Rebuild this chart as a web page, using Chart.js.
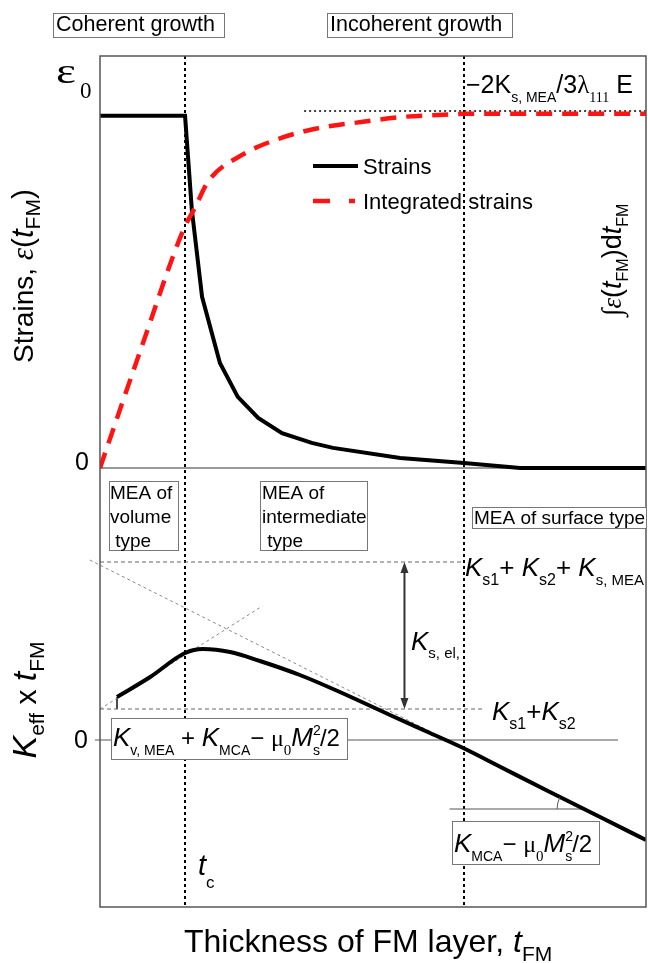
<!DOCTYPE html>
<html>
<head>
<meta charset="utf-8">
<script src="https://cdn.jsdelivr.net/npm/chart.js@4/dist/chart.umd.min.js"></script>
<style>
  html, body { margin: 0; padding: 0; background: #fff; }
</style>
</head>
<body>
<canvas id="chart" width="648" height="963"></canvas>
<script>
// thickness in units of t_c, strains in units of eps0, Keff*t in arbitrary units
const tc = 1.0;
const tIncoherent = 4.28;

const strainT = [0, 1.0, 1.08, 1.20, 1.41, 1.62, 1.86, 2.14, 2.49, 2.74, 3.53, 4.28, 4.94, 6.42];
const strainV = [1.0, 1.0, 0.733, 0.486, 0.298, 0.202, 0.142, 0.099, 0.071, 0.057, 0.028, 0.014, 0.0, 0.0];

const intT = [0, 0.49, 0.98, 1.12, 1.27, 1.67, 2.14, 2.59, 3.09, 3.56, 4.04, 4.28, 6.42];
const intV = [0, 0.344, 0.676, 0.741, 0.813, 0.889, 0.938, 0.966, 0.983, 0.997, 1.003, 1.006, 1.006];
const intLimitT = [2.4, 6.42];
const intLimit = 1.014;

const keffT = [0.20, 0.59, 1.00, 1.21, 1.53, 1.88, 2.35, 2.82, 3.41, 3.88, 4.27, 4.71, 5.29, 5.88, 6.42];
const keffV = [0.43, 0.63, 0.87, 0.91, 0.88, 0.79, 0.65, 0.48, 0.25, 0.07, -0.08, -0.27, -0.52, -0.77, -1.00];

// guide lines in the lower panel
const ksTotal = 1.78;          // Ks1 + Ks2 + Ks,MEA
const ksTotalT = [0, 4.28];
const ksSum = 0.31;            // Ks1 + Ks2
const ksSumT = [0, 4.5];
const asymT = [-0.12, 4.55];
const asymV = [1.80, -0.20];
const startT = [0, 1.91];
const startV = [0.31, 1.34];
const tickT = [0.20, 0.20];
const tickV = [0.43, 0.31];
const zeroT = [-0.06, 6.09];
const slopeRefT = [4.11, 5.68];
const slopeRef = -0.69;
const arrowT = 3.58;

const SANS = '"Liberation Sans", Arial, sans-serif';
const SERIF = '"Liberation Serif", "Times New Roman", serif';

const pts = (xs, ys) => xs.map((x, i) => ({ x: x, y: Array.isArray(ys) ? ys[i] : ys }));

function guide(data, axis, color, width, dash, extra) {
  return Object.assign({
    data: data, yAxisID: axis, borderColor: color, borderWidth: width,
    borderDash: dash, pointRadius: 0, tension: 0, fill: false
  }, extra || {});
}

// text made of runs: [text, size, flags, dy]; flags: i italic, s serif, k keep position
function runs(ctx, x, y, parts, align) {
  const font = (p) => (p[2] && p[2].includes('i') ? 'italic ' : '') + p[1] + 'px ' +
    (p[2] && p[2].includes('s') ? SERIF : SANS);
  let total = 0;
  parts.forEach(p => { ctx.font = font(p); if (!(p[2] && p[2].includes('k'))) total += ctx.measureText(p[0]).width; });
  let cx = align === 'center' ? x - total / 2 : x;
  ctx.textBaseline = 'alphabetic';
  ctx.textAlign = 'left';
  parts.forEach(p => {
    ctx.font = font(p);
    ctx.fillText(p[0], cx, y + (p[3] || 0));
    if (!(p[2] && p[2].includes('k'))) cx += ctx.measureText(p[0]).width;
  });
}

function box(ctx, x1, y1, x2, y2) {
  ctx.save();
  ctx.fillStyle = '#fff';
  ctx.strokeStyle = '#777';
  ctx.lineWidth = 1;
  ctx.setLineDash([]);
  ctx.fillRect(x1, y1, x2 - x1, y2 - y1);
  ctx.strokeRect(x1 + 0.5, y1 + 0.5, x2 - x1, y2 - y1);
  ctx.restore();
}

const decor = {
  id: 'decor',
  beforeDatasetsDraw(chart) {
    const { ctx, chartArea: a, scales: { x } } = chart;
    ctx.save();
    ctx.strokeStyle = '#000';
    ctx.lineWidth = 2;
    ctx.setLineDash([3, 3]);
    [tc, tIncoherent].forEach(t => {
      const px = Math.round(x.getPixelForValue(t));
      ctx.beginPath(); ctx.moveTo(px, a.top); ctx.lineTo(px, a.bottom); ctx.stroke();
    });
    ctx.restore();
  },
  afterDatasetsDraw(chart) {
    const { ctx, chartArea: a, scales: { x, yTop, yBot } } = chart;
    ctx.save();
    ctx.fillStyle = '#000';

    // frame
    ctx.strokeStyle = '#555';
    ctx.lineWidth = 1.5;
    ctx.strokeRect(a.left, a.top, a.width, a.height);

    // arrow between Ks levels
    const ax = x.getPixelForValue(arrowT);
    const ay1 = yBot.getPixelForValue(ksTotal), ay2 = yBot.getPixelForValue(ksSum);
    ctx.strokeStyle = '#333';
    ctx.fillStyle = '#333';
    ctx.lineWidth = 2;
    ctx.beginPath(); ctx.moveTo(ax, ay1 + 6); ctx.lineTo(ax, ay2 - 6); ctx.stroke();
    ctx.beginPath(); ctx.moveTo(ax, ay1); ctx.lineTo(ax - 4, ay1 + 11); ctx.lineTo(ax + 4, ay1 + 11); ctx.fill();
    ctx.beginPath(); ctx.moveTo(ax, ay2); ctx.lineTo(ax - 4, ay2 - 11); ctx.lineTo(ax + 4, ay2 - 11); ctx.fill();

    // angle arc
    ctx.strokeStyle = '#555';
    ctx.lineWidth = 1;
    ctx.beginPath();
    ctx.arc(x.getPixelForValue(5.68), yBot.getPixelForValue(slopeRef), 26, Math.PI, Math.PI + Math.atan(0.5));
    ctx.stroke();

    // legend
    ctx.lineWidth = 4;
    ctx.strokeStyle = '#000';
    ctx.beginPath(); ctx.moveTo(313, 166); ctx.lineTo(358, 166); ctx.stroke();
    ctx.strokeStyle = '#ff1414';
    ctx.lineWidth = 4.5;
    ctx.beginPath(); ctx.moveTo(313, 201); ctx.lineTo(330, 201); ctx.moveTo(349, 201); ctx.lineTo(355, 201); ctx.stroke();
    ctx.fillStyle = '#000';
    runs(ctx, 363, 174, [['Strains', 22]]);
    runs(ctx, 363, 209, [['Integrated strains', 22]]);

    // top boxes
    box(ctx, 53, 13, 224, 37);
    runs(ctx, 56, 31, [['Coherent growth', 21.5]]);
    box(ctx, 327, 13, 512, 37);
    runs(ctx, 330, 31, [['Incoherent growth', 21.5]]);

    // eps0
    ctx.save();
    ctx.translate(56, 83);
    ctx.scale(1.35, 1);
    ctx.font = '35px ' + SERIF;
    ctx.fillText('ε', 0, 0);
    ctx.restore();
    runs(ctx, 80, 98, [['0', 23, 's']]);

    // zero labels
    runs(ctx, 75, 470, [['0', 25]]);
    runs(ctx, 74, 748, [['0', 25]]);

    runs(ctx, 466, 93, [['−2K', 25], ['s, MEA', 14, '', 9], ['/3', 25], ['λ', 25, 's'], ['111', 14, 's', 9], [' E', 25]]);

    // y titles
    ctx.save();
    ctx.translate(33, 276);
    ctx.rotate(-Math.PI / 2);
    runs(ctx, 0, 0, [['Strains, ', 28], ['ε', 31, 'is'], ['(', 30], ['t', 31, 'i'], ['FM', 21, '', 7], [')', 30]], 'center');
    ctx.restore();

    ctx.save();
    ctx.translate(36, 700);
    ctx.rotate(-Math.PI / 2);
    runs(ctx, 0, 0, [['K', 34, 'i'], ['eff', 21, '', 8], [' x ', 30], ['t', 34, 'i'], ['FM', 21, '', 8]], 'center');
    ctx.restore();

    ctx.save();
    ctx.translate(621, 260);
    ctx.rotate(-Math.PI / 2);
    runs(ctx, 0, 0, [['∫', 28, 's'], ['ε', 27, 'is'], ['(', 27], ['t', 27, 'i'], ['FM', 16, '', 7], [')d', 27], ['t', 27, 'i'], ['FM', 16, '', 7]], 'center');
    ctx.restore();

    // MEA boxes
    box(ctx, 109, 481, 178, 550);
    runs(ctx, 110, 499, [['MEA of', 19]]);
    runs(ctx, 110, 523, [['volume', 19]]);
    runs(ctx, 110, 547, [[' type', 19]]);
    box(ctx, 260, 481, 367, 550);
    runs(ctx, 262, 499, [['MEA of', 19]]);
    runs(ctx, 262, 523, [['intermediate', 19]]);
    runs(ctx, 262, 547, [[' type', 19]]);
    box(ctx, 472, 507, 646, 528);
    runs(ctx, 474, 524, [['MEA of surface type', 19]]);

    // anisotropy labels
    runs(ctx, 465, 576, [['K', 26, 'i'], ['s1', 16, '', 9], ['+ ', 26], ['K', 26, 'i'], ['s2', 16, '', 9], ['+ ', 26], ['K', 26, 'i'], ['s, MEA', 15, '', 9]]);
    runs(ctx, 411, 650, [['K', 26, 'i'], ['s, el,', 15, '', 8]]);
    runs(ctx, 492, 720, [['K', 26, 'i'], ['s1', 16, '', 9], ['+', 26], ['K', 26, 'i'], ['s2', 16, '', 9]]);

    box(ctx, 111, 718, 347, 759);
    runs(ctx, 113, 746, [['K', 26, 'i'], ['v, MEA', 14, '', 9], [' + ', 24], ['K', 26, 'i'], ['MCA', 14, '', 9], ['− ', 24], ['μ', 24, 's'], ['0', 15, 's', 9], ['M', 26, 'i'], ['2', 14, 'k', -11], ['s', 14, '', 9], ['/2', 24]]);
    box(ctx, 452, 821, 599, 864);
    runs(ctx, 454, 852, [['K', 26, 'i'], ['MCA', 14, '', 9], ['− ', 24], ['μ', 24, 's'], ['0', 15, 's', 9], ['M', 26, 'i'], ['2', 14, 'k', -11], ['s', 14, '', 9], ['/2', 24]]);

    // t_c and x title
    runs(ctx, 198, 875, [['t', 29, 'i'], ['c', 17, '', 13]]);
    runs(ctx, 184, 952, [['Thickness of FM layer, ', 32], ['t', 32, 'i'], ['FM', 21, '', 9]]);

    ctx.restore();
  }
};

new Chart(document.getElementById('chart').getContext('2d'), {
  type: 'line',
  data: {
    datasets: [
      {
        label: 'Integrated strains', data: pts(intT, intV), yAxisID: 'yTop',
        borderColor: '#ff1414', borderWidth: 4.5, borderDash: [16, 10],
        pointRadius: 0, cubicInterpolationMode: 'monotone', fill: false
      },
      {
        label: 'Strains', data: pts(strainT, strainV), yAxisID: 'yTop',
        borderColor: '#000', borderWidth: 4, pointRadius: 0,
        tension: 0, fill: false
      },
      {
        label: 'Keff x tFM', data: pts(keffT, keffV), yAxisID: 'yBot',
        borderColor: '#000', borderWidth: 4, pointRadius: 0,
        cubicInterpolationMode: 'monotone', fill: false
      },
      guide(pts(intLimitT, intLimit), 'yTop', '#000', 1.5, [2, 3]),
      guide(pts([0, 6.42], 0), 'yTop', '#777', 1.5, []),
      guide(pts(zeroT, 0), 'yBot', '#555', 1, [], { clip: false }),
      guide(pts(ksTotalT, ksTotal), 'yBot', '#666', 1, [4, 3]),
      guide(pts(ksSumT, ksSum), 'yBot', '#666', 1, [4, 3]),
      guide(pts(asymT, asymV), 'yBot', '#888', 1, [3, 3], { clip: false }),
      guide(pts(startT, startV), 'yBot', '#888', 1, [3, 3]),
      guide(pts(tickT, tickV), 'yBot', '#333', 1, []),
      guide(pts(slopeRefT, slopeRef), 'yBot', '#555', 1, [])
    ]
  },
  options: {
    responsive: false,
    animation: false,
    layout: { padding: { left: 100, right: 2, top: 56, bottom: 56 } },
    plugins: { legend: { display: false }, tooltip: { enabled: false } },
    scales: {
      x: { type: 'linear', display: false, min: 0, max: 6.42 },
      yTop: { type: 'linear', display: false, min: -1.247, max: 1.170 },
      yBot: { type: 'linear', display: false, min: -1.67, max: 6.84 }
    }
  },
  plugins: [decor]
});
</script>
</body>
</html>
